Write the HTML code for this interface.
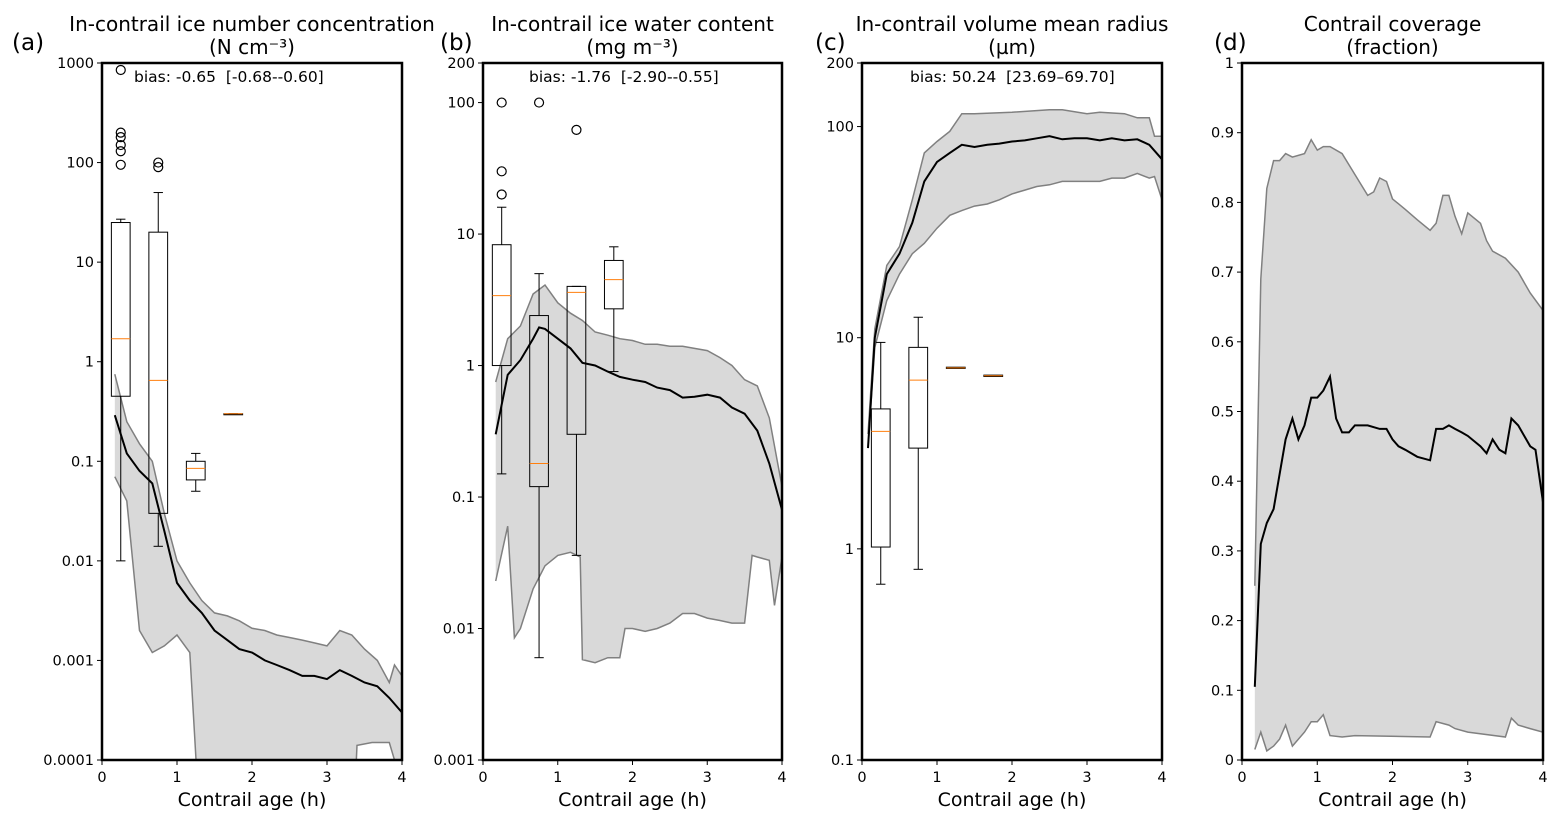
<!DOCTYPE html>
<html><head><meta charset="utf-8"><style>
body{margin:0;background:#fff;}
svg{display:block;font-family:"DejaVu Sans","Liberation Sans",sans-serif;}
text{white-space:pre;}
</style></head><body>
<svg id="fig" width="1563" height="826" viewBox="0 0 1563 826"></svg>
<script>
// ---- Panel (a) data ----
const aMeanT=[0.17,0.33,0.5,0.67,0.83,1.0,1.17,1.33,1.5,1.67,1.83,2.0,2.17,2.33,2.5,2.67,2.83,3.0,3.17,3.33,3.5,3.67,3.83,4.0];
const aMean=[0.29,0.12,0.08,0.06,0.02,0.006,0.004,0.003,0.002,0.0016,0.0013,0.0012,0.001,0.0009,0.0008,0.0007,0.0007,0.00065,0.0008,0.0007,0.0006,0.00055,0.00042,0.0003];
const aUpT=[0.17,0.33,0.5,0.67,0.83,1.0,1.17,1.33,1.5,1.67,1.83,2.0,2.17,2.33,2.5,2.67,2.83,3.0,3.17,3.33,3.5,3.67,3.83,3.9,4.0];
const aUp=[0.75,0.25,0.15,0.1,0.03,0.01,0.006,0.004,0.003,0.0028,0.0025,0.0021,0.002,0.0018,0.0017,0.0016,0.0015,0.0014,0.002,0.0018,0.0013,0.001,0.0006,0.0009,0.0007];
const aLoT=[0.17,0.33,0.5,0.67,0.83,1.0,1.17,1.33,3.33,3.4,3.6,3.83,3.9,4.0];
const aLo=[0.07,0.04,0.002,0.0012,0.0014,0.0018,0.0012,0.00001,0.00001,0.00014,0.00015,0.00015,0.0001,0.00001];
const aBoxT=[0.25,0.75,1.25,1.75];
const aWlo=[0.01,0.014,0.05,0.3];
const aQ1=[0.45,0.03,0.065,0.3];
const aMed=[1.7,0.65,0.085,0.3];
const aQ3=[25,20,0.1,0.3];
const aWhi=[27,50,0.12,0.3];
const aFlierT=[0.25,0.25,0.25,0.25,0.25,0.25,0.75,0.75];
const aFlier=[95,130,150,180,200,850,90,100];
const aTicks=[0.0001,0.001,0.01,0.1,1,10,100,1000];
const aTickLabels=["0.0001","0.001","0.01","0.1","1","10","100","1000"];
// ---- Panel (b) data ----
const bMeanT=[0.17,0.33,0.5,0.67,0.75,0.83,1.0,1.17,1.33,1.5,1.67,1.83,2.0,2.17,2.33,2.5,2.67,2.83,3.0,3.17,3.33,3.5,3.67,3.83,4.0];
const bMean=[0.3,0.85,1.1,1.6,1.95,1.9,1.6,1.35,1.05,1.0,0.9,0.82,0.78,0.75,0.68,0.65,0.57,0.58,0.6,0.57,0.48,0.43,0.32,0.18,0.08];
const bUpT=[0.17,0.33,0.5,0.67,0.83,1.0,1.17,1.33,1.5,1.67,1.83,2.0,2.17,2.33,2.5,2.67,2.83,3.0,3.17,3.33,3.5,3.67,3.83,4.0];
const bUp=[0.75,1.6,2,3.5,4.1,3,2.5,2.2,1.8,1.7,1.6,1.55,1.45,1.45,1.4,1.4,1.35,1.3,1.15,1.0,0.78,0.7,0.4,0.12];
const bLoT=[0.17,0.33,0.42,0.5,0.67,0.83,1.0,1.17,1.3,1.33,1.5,1.67,1.83,1.9,2.0,2.17,2.33,2.5,2.67,2.83,3.0,3.17,3.33,3.5,3.6,3.67,3.83,3.9,4.0];
const bLo=[0.023,0.06,0.0085,0.01,0.02,0.03,0.036,0.038,0.035,0.0058,0.0055,0.006,0.006,0.01,0.01,0.0095,0.01,0.011,0.013,0.013,0.012,0.0115,0.011,0.011,0.036,0.035,0.033,0.015,0.035];
const bBoxT=[0.25,0.75,1.25,1.75];
const bWlo=[0.15,0.006,0.036,0.9];
const bQ1=[1,0.12,0.3,2.7];
const bMed=[3.4,0.18,3.6,4.5];
const bQ3=[8.3,2.4,4,6.3];
const bWhi=[16,5,4,8];
const bFlierT=[0.25,0.25,0.25,0.75,1.25];
const bFlier=[20,30,100,100,62];
const bTicks=[0.001,0.01,0.1,1,10,100,200];
const bTickLabels=["0.001","0.01","0.1","1","10","100","200"];
// ---- Panel (c) data ----
const cMeanT=[0.08,0.17,0.33,0.5,0.67,0.83,1.0,1.17,1.33,1.5,1.67,1.83,2.0,2.17,2.33,2.5,2.67,2.83,3.0,3.17,3.33,3.5,3.67,3.83,4.0];
const cMean=[3,10,20,25,35,55,68,75,82,80,82,83,85,86,88,90,87,88,88,86,88,86,87,82,70];
const cUpT=[0.08,0.17,0.33,0.5,0.67,0.83,1.0,1.17,1.33,1.5,2.0,2.5,2.67,3.0,3.17,3.5,3.67,3.83,3.9,4.0];
const cUp=[3.5,11,22,27,45,75,85,95,115,115,117,120,120,115,117,115,110,110,90,90];
const cLoT=[0.08,0.17,0.33,0.5,0.67,0.83,1.0,1.17,1.33,1.5,1.67,1.83,2.0,2.17,2.33,2.5,2.67,2.83,3.0,3.17,3.33,3.5,3.67,3.83,3.9,4.0];
const cLo=[3,9,15,20,25,28,33,38,40,42,43,45,48,50,52,53,55,55,55,55,57,57,60,57,58,45];
const cBoxT=[0.25,0.75,1.25,1.75];
const cWlo=[0.68,0.8,7.2,6.6];
const cQ1=[1.02,3,7.15,6.55];
const cMed=[3.6,6.3,7.2,6.6];
const cQ3=[4.6,9,7.25,6.65];
const cWhi=[9.5,12.5,7.2,6.6];
const cFlierT=[];
const cFlier=[];
const cTicks=[0.1,1,10,100,200];
const cTickLabels=["0.1","1","10","100","200"];
// ---- Panel (d) data ----
const dMeanT=[0.17,0.25,0.33,0.42,0.5,0.58,0.67,0.75,0.83,0.92,1.0,1.08,1.17,1.25,1.33,1.42,1.5,1.67,1.83,1.92,2.0,2.08,2.17,2.33,2.5,2.58,2.67,2.75,2.83,2.92,3.0,3.17,3.25,3.33,3.42,3.5,3.58,3.67,3.83,3.9,4.0];
const dMean=[0.105,0.31,0.34,0.36,0.41,0.46,0.49,0.46,0.48,0.52,0.52,0.53,0.55,0.49,0.47,0.47,0.48,0.48,0.475,0.475,0.46,0.45,0.445,0.435,0.43,0.475,0.475,0.48,0.475,0.47,0.465,0.45,0.44,0.46,0.445,0.44,0.49,0.48,0.45,0.445,0.37];
const dUpT=[0.17,0.25,0.33,0.42,0.5,0.58,0.67,0.83,0.92,1.0,1.08,1.17,1.33,1.5,1.67,1.75,1.83,1.92,2.0,2.17,2.33,2.5,2.58,2.67,2.75,2.83,2.92,3.0,3.17,3.25,3.33,3.5,3.67,3.83,4.0];
const dUp=[0.25,0.69,0.82,0.86,0.86,0.87,0.865,0.87,0.89,0.875,0.88,0.88,0.87,0.84,0.81,0.815,0.835,0.83,0.805,0.79,0.775,0.76,0.77,0.81,0.81,0.78,0.755,0.785,0.77,0.745,0.73,0.72,0.7,0.67,0.645];
const dLoT=[0.17,0.25,0.33,0.42,0.5,0.58,0.67,0.83,0.92,1.0,1.08,1.17,1.33,1.5,2.5,2.58,2.75,2.83,3.0,3.5,3.58,3.67,3.83,4.0];
const dLo=[0.015,0.04,0.013,0.02,0.03,0.05,0.02,0.04,0.055,0.055,0.065,0.035,0.033,0.035,0.033,0.055,0.05,0.045,0.04,0.033,0.06,0.05,0.045,0.04];
const dTicks=[0,0.1,0.2,0.3,0.4,0.5,0.6,0.7,0.8,0.9,1];
const dTickLabels=["0","0.1","0.2","0.3","0.4","0.5","0.6","0.7","0.8","0.9","1"];
const xTicks=[0,1,2,3,4];
const xTickLabels=["0","1","2","3","4"];

const NS="http://www.w3.org/2000/svg";
const svg=document.getElementById('fig');
function el(tag,attrs,parent,text){const e=document.createElementNS(NS,tag);for(const k in attrs)e.setAttribute(k,attrs[k]);if(text!==undefined)e.textContent=text;(parent||svg).appendChild(e);return e;}

function panel(cfg){
  const L=cfg.x0,R=cfg.x1,T=63,B=760;
  const g=el('g',{});
  
  
  const xs=t=>L+(t-0)/4*(R-L);
  const ys=cfg.log?(v=>B-(Math.log10(v)-Math.log10(cfg.ymin))/(Math.log10(cfg.ymax)-Math.log10(cfg.ymin))*(B-T)):(v=>B-(v-cfg.ymin)/(cfg.ymax-cfg.ymin)*(B-T));
  const cid='clip-'+cfg.key;
  const defs=el('defs',{},g);const cp=el('clipPath',{id:cid},defs);el('rect',{x:L,y:T,width:R-L,height:B-T},cp);
  const pg=el('g',{'clip-path':'url(#'+cid+')'},g);
  let pts=[];
  cfg.upT.forEach((t,i)=>pts.push(xs(t).toFixed(1)+','+ys(cfg.up[i]).toFixed(1)));
  for(let i=cfg.loT.length-1;i>=0;i--)pts.push(xs(cfg.loT[i]).toFixed(1)+','+ys(cfg.lo[i]).toFixed(1));
  const env=el('polygon',{points:pts.join(' '),fill:'#d9d9d9',stroke:'none'},pg);
  
  
  const upL=el('polyline',{points:cfg.upT.map((t,i)=>xs(t).toFixed(1)+','+ys(cfg.up[i]).toFixed(1)).join(' '),fill:'none',stroke:'#808080','stroke-width':1.5},pg);
  
  
  const loL=el('polyline',{points:cfg.loT.map((t,i)=>xs(t).toFixed(1)+','+ys(cfg.lo[i]).toFixed(1)).join(' '),fill:'none',stroke:'#808080','stroke-width':1.5},pg);
  
  
  const mL=el('polyline',{points:cfg.meanT.map((t,i)=>xs(t).toFixed(1)+','+ys(cfg.mean[i]).toFixed(1)).join(' '),fill:'none',stroke:'#000','stroke-width':2},pg);
  
  
  if(cfg.boxT){
    const hw=0.125*(R-L)/4, cw=hw/2;
    cfg.boxT.forEach((t,i)=>{
      const bg=el('g',{},pg);
      
      
      const cx=xs(t);
      el('line',{x1:cx,x2:cx,y1:ys(cfg.wlo[i]),y2:ys(cfg.q1[i]),stroke:'#000','stroke-width':1},bg);
      el('line',{x1:cx,x2:cx,y1:ys(cfg.q3[i]),y2:ys(cfg.whi[i]),stroke:'#000','stroke-width':1},bg);
      el('line',{x1:cx-cw,x2:cx+cw,y1:ys(cfg.wlo[i]),y2:ys(cfg.wlo[i]),stroke:'#000','stroke-width':1},bg);
      el('line',{x1:cx-cw,x2:cx+cw,y1:ys(cfg.whi[i]),y2:ys(cfg.whi[i]),stroke:'#000','stroke-width':1},bg);
      const y1=ys(cfg.q3[i]),y2=ys(cfg.q1[i]);
      el('rect',{x:cx-hw,y:y1,width:2*hw,height:Math.max(1,y2-y1),fill:'none',stroke:'#000','stroke-width':1},bg);
      el('line',{x1:cx-hw,x2:cx+hw,y1:ys(cfg.med[i]),y2:ys(cfg.med[i]),stroke:'#ff7f0e','stroke-width':1},bg);
    });
    cfg.flT.forEach((t,i)=>{
      const c=el('circle',{cx:xs(t),cy:ys(cfg.fl[i]),r:4.5,fill:'none',stroke:'#000','stroke-width':1.2},pg);
      
      
    });
  }
  el('rect',{x:L,y:T,width:R-L,height:B-T,fill:'none',stroke:'#000','stroke-width':2.5},g);
  cfg.ticks.forEach((v,i)=>{
    const y=ys(v);
    el('line',{x1:L-5,x2:L,y1:y,y2:y,stroke:'#000','stroke-width':1},g);
    const tx=el('text',{x:L-8,y:y+5,'text-anchor':'end','font-size':14.5},g,cfg.tickLabels[i]);
    
    
  });
  xTicks.forEach((v,i)=>{
    const x=xs(v);
    el('line',{x1:x,x2:x,y1:B,y2:B+5,stroke:'#000','stroke-width':1},g);
    const tx=el('text',{x:x,y:B+22,'text-anchor':'middle','font-size':14.5},g,xTickLabels[i]);
    
    
  });
  const xl=el('text',{x:(L+R)/2,y:806,'text-anchor':'middle','font-size':19},g,'Contrail age (h)');
  
  
  const t1=el('text',{x:(L+R)/2,y:31,'text-anchor':'middle','font-size':20},g,cfg.title1);
  
  
  const t2=el('text',{x:(L+R)/2,y:54,'text-anchor':'middle','font-size':20},g,cfg.title2);
  
  
  const lt=el('text',{x:cfg.letterX,y:50,'font-size':23},g,cfg.letter);
  
  
  if(cfg.bias){
    const bt=el('text',{x:cfg.biasX,y:82,'font-size':15.5},g,cfg.bias);
    
    
  }
}

panel({key:'a',name:'panel-a-ice-number',x0:102,x1:402,log:true,ymin:0.0001,ymax:1000,meanT:aMeanT,mean:aMean,upT:aUpT,up:aUp,loT:aLoT,lo:aLo,boxT:aBoxT,wlo:aWlo,q1:aQ1,med:aMed,q3:aQ3,whi:aWhi,flT:aFlierT,fl:aFlier,ticks:aTicks,tickLabels:aTickLabels,title1:'In-contrail ice number concentration',title2:'(N cm\u207B\u00B3)',letter:'(a)',letterX:12,bias:'bias: -0.65  [-0.68--0.60]',biasX:134});
panel({key:'b',name:'panel-b-ice-water',x0:483,x1:782,log:true,ymin:0.001,ymax:200,meanT:bMeanT,mean:bMean,upT:bUpT,up:bUp,loT:bLoT,lo:bLo,boxT:bBoxT,wlo:bWlo,q1:bQ1,med:bMed,q3:bQ3,whi:bWhi,flT:bFlierT,fl:bFlier,ticks:bTicks,tickLabels:bTickLabels,title1:'In-contrail ice water content',title2:'(mg m\u207B\u00B3)',letter:'(b)',letterX:440,bias:'bias: -1.76  [-2.90--0.55]',biasX:529});
panel({key:'c',name:'panel-c-mean-radius',x0:862,x1:1162,log:true,ymin:0.1,ymax:200,meanT:cMeanT,mean:cMean,upT:cUpT,up:cUp,loT:cLoT,lo:cLo,boxT:cBoxT,wlo:cWlo,q1:cQ1,med:cMed,q3:cQ3,whi:cWhi,flT:cFlierT,fl:cFlier,ticks:cTicks,tickLabels:cTickLabels,title1:'In-contrail volume mean radius',title2:'(\u00B5m)',letter:'(c)',letterX:815,bias:'bias: 50.24  [23.69\u201369.70]',biasX:910});
panel({key:'d',name:'panel-d-coverage',x0:1242,x1:1543,log:false,ymin:0,ymax:1,meanT:dMeanT,mean:dMean,upT:dUpT,up:dUp,loT:dLoT,lo:dLo,boxT:null,ticks:dTicks,tickLabels:dTickLabels,title1:'Contrail coverage',title2:'(fraction)',letter:'(d)',letterX:1214,bias:null});
</script>
</body></html>
